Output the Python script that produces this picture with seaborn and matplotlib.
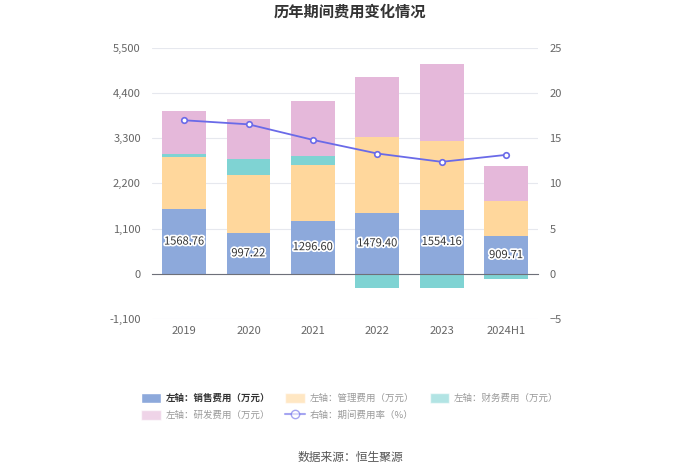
import numpy as np
import matplotlib
matplotlib.use("Agg")
import matplotlib.pyplot as plt
import matplotlib.patheffects as pe
from matplotlib.patches import Patch
from matplotlib.lines import Line2D
import seaborn as sns

# data (万元 / %)
years = ["2019", "2020", "2021", "2022", "2023", "2024H1"]
sales = [1568.76, 997.22, 1296.60, 1479.40, 1554.16, 909.71]
admin = [1279, 1414, 1349, 1854, 1690, 870]
finance = [81, 372, 219, -348, -348, -138]
rnd = [1035, 979, 1351, 1456, 1853, 833]
rate = [16.99, 16.54, 14.82, 13.31, 12.39, 13.16]

left_ticks = [-1100, 0, 1100, 2200, 3300, 4400, 5500]
right_ticks = [-5, 0, 5, 10, 15, 20, 25]

c_sales = "#8DA9DB"
c_admin = "#FFD79C"
c_fin = "#7FD3D3"
c_rnd = "#E5B8DA"
c_line = "#6A6AE8"

sns.set_style("white")
plt.rcParams['font.family'] = ['Noto Sans CJK SC', 'DejaVu Sans']

fig = plt.figure(figsize=(7, 4.74), dpi=100)
ax = fig.add_axes([0.217, 0.327, 0.552, 0.572])

sales_a = np.array(sales)
admin_a = np.array(admin)
fin_a = np.array(finance)
top_admin = sales_a + admin_a
fin_bottom = np.where(fin_a >= 0, top_admin, 0)
rnd_bottom = top_admin + np.clip(fin_a, 0, None)

w = 0.68
bar_kw = dict(width=w, saturation=1, linewidth=0, ax=ax)
sns.barplot(x=years, y=sales, color=c_sales, **bar_kw)
sns.barplot(x=years, y=admin, bottom=sales_a, color=c_admin, **bar_kw)
sns.barplot(x=years, y=finance, bottom=fin_bottom, color=c_fin, **bar_kw)
sns.barplot(x=years, y=rnd, bottom=rnd_bottom, color=c_rnd, **bar_kw)

for i, v in enumerate(sales):
    ax.text(i, v / 2, f"{v:.2f}", ha="center", va="center", fontsize=8, color="#333333",
            path_effects=[pe.withStroke(linewidth=2.5, foreground="white")])

ax.set_ylim(-1100, 5500)
ax.set_xlim(-0.5, 5.5)
ax.set_yticks(left_ticks)
ax.set_yticklabels([f"{t:,}" for t in left_ticks])
ax.yaxis.grid(True, color="#E6E8EE", linewidth=0.8)
ax.set_axisbelow(True)
for s in ["top", "right", "left"]:
    ax.spines[s].set_visible(False)
ax.spines["bottom"].set_position(("data", 0))
ax.spines["bottom"].set_color("#6E7079")
ax.tick_params(axis="x", length=4, color="#6E7079", pad=33.5, labelsize=8, labelcolor="#666666")
ax.tick_params(axis="y", length=0, labelsize=8, labelcolor="#666666", pad=8)
ax.set_xlabel("")
ax.set_ylabel("")

ax2 = ax.twinx()
sns.lineplot(x=np.arange(len(years)), y=rate, ax=ax2, color=c_line, linewidth=1.3,
             marker="o", markersize=4, markerfacecolor="white", markeredgecolor=c_line,
             markeredgewidth=1.2)
ax2.set_ylim(-5, 25)
ax2.set_yticks(right_ticks)
ax2.set_xlim(-0.5, 5.5)
for s in ["top", "right", "left", "bottom"]:
    ax2.spines[s].set_visible(False)
ax2.tick_params(axis="y", length=0, labelsize=8, labelcolor="#666666", pad=8)
ax2.set_ylabel("")

fig.text(0.5, 0.975, "历年期间费用变化情况", ha="center", va="center", fontsize=11,
         fontweight="bold", color="#333333")

handles = [
    Patch(facecolor=c_sales, label="左轴：销售费用（万元）"),
    Patch(facecolor=c_admin, alpha=0.6, label="左轴：管理费用（万元）"),
    Patch(facecolor=c_fin, alpha=0.6, label="左轴：财务费用（万元）"),
    Patch(facecolor=c_rnd, alpha=0.6, label="左轴：研发费用（万元）"),
    Line2D([0], [0], color=c_line, alpha=0.6, marker="o", markersize=6,
           markerfacecolor="white", label="右轴：期间费用率（%）"),
]
order = [0, 3, 1, 4, 2]
leg = fig.legend([handles[i] for i in order], [handles[i].get_label() for i in order],
                 loc="center", bbox_to_anchor=(0.5, 0.142), ncol=3, frameon=False,
                 fontsize=6.8, handlelength=2.1, handleheight=1.2, handletextpad=0.5,
                 columnspacing=1.6, labelspacing=0.75)
for i, t in enumerate(leg.get_texts()):
    t.set_color("#333333" if i == 0 else "#999999")
leg.get_texts()[0].set_fontweight("bold")

fig.text(0.5, 0.035, "数据来源：恒生聚源", ha="center", va="center", fontsize=8.5, color="#555555")

fig.savefig("out.png", dpi=100, facecolor="white")
